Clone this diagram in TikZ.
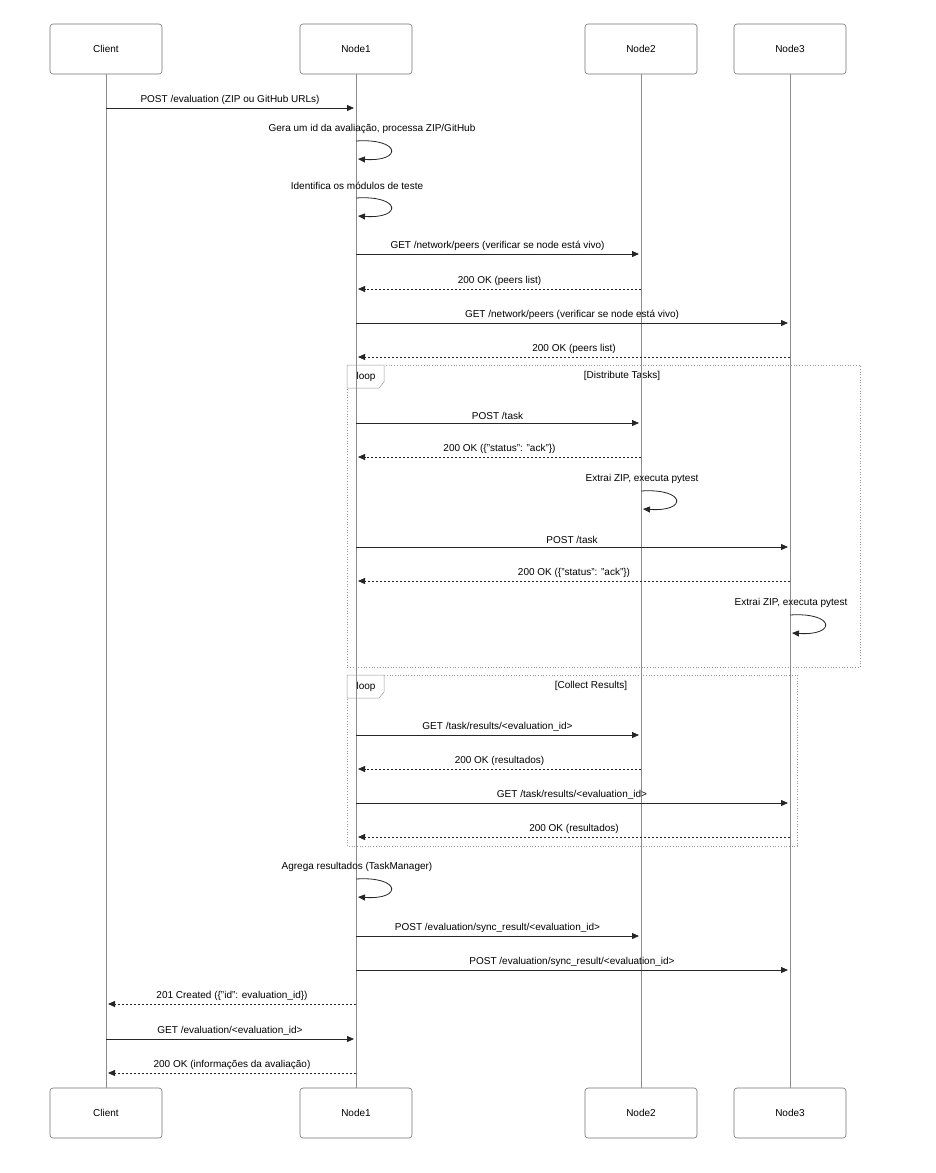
\documentclass[tikz,border=0pt]{standalone}
\usepackage{fontspec}
\setmainfont{Liberation Sans}
\usetikzlibrary{arrows.meta}
\begin{document}
\begin{tikzpicture}[x=1pt,y=-1pt,font=\fontsize{10}{12}\selectfont,
  actor/.style={draw=black!55,rounded corners=3pt,minimum width=112pt,minimum height=50pt,fill=white,line width=0.6pt},
  life/.style={draw=black!45,line width=0.8pt},
  req/.style={draw=black!85,line width=0.8pt,-{Triangle[length=7pt,width=6pt]}},
  rep/.style={req,dash pattern=on 2pt off 2pt},
  lbl/.style={above=2pt,midway,inner sep=1pt},
  frame/.style={draw=black!40,dotted,line width=0.7pt}]
\useasboundingbox (0,0) rectangle (936,1173);
% frames
\draw[frame] (347,365) rectangle (860,667);
\draw[frame] (347,675) rectangle (797,846);
\foreach \y/\t in {365/a,675/b}{
  \draw[draw=black!40,fill=white,line width=0.5pt] (347,\y) -- (384,\y) -- (384,\y+17) -- (379,\y+23) -- (347,\y+23) -- cycle;
  \node at (366,\y+12) {loop};}
\node (dt) at (622,376) {[Distribute Tasks]};
\node (cr) at (591,686) {[Collect Results]};
% actors
\node[actor] (c) at (106,49) {Client};
\node[actor] (n1) at (356,49) {Node1};
\node[actor] (n2) at (641,49) {Node2};
\node[actor] (n3) at (790,49) {Node3};
\node[actor] (cb) at (106,1113) {Client};
\node[actor] (n1b) at (356,1113) {Node1};
\node[actor] (n2b) at (641,1113) {Node2};
\node[actor] (n3b) at (790,1113) {Node3};
\draw[life] (c) -- (cb); \draw[life] (n1) -- (n1b);
\draw[life] (n2) -- (n2b); \draw[life] (n3) -- (n3b);
% messages
\draw[req] (c|-0,108) -- node[lbl]{POST /evaluation (ZIP ou GitHub URLs)} ([xshift=-2pt]n1|-0,108);
\newcommand{\selfm}[4]{% node, y, text, textx
  \node at (#4,#2-12) {#3};
  \draw[req] (#1|-0,#2) .. controls +(45,-3) and +(45,3) .. ([xshift=2pt]#1|-0,#2+18);}
\selfm{n1}{141}{Gera um id da avaliação, processa ZIP/GitHub}{372}
\selfm{n1}{198}{Identifica os módulos de teste}{357}
\draw[req] (n1|-0,254) -- node[lbl]{GET /network/peers (verificar se node está vivo)} ([xshift=-2pt]n2|-0,254);
\draw[rep] (n2|-0,289) -- node[lbl]{200 OK (peers list)} ([xshift=2pt]n1|-0,289);
\draw[req] (n1|-0,323) -- node[lbl]{GET /network/peers (verificar se node está vivo)} ([xshift=-2pt]n3|-0,323);
\draw[rep] (n3|-0,357) -- node[lbl]{200 OK (peers list)} ([xshift=2pt]n1|-0,357);
\draw[req] (n1|-0,423) -- node[lbl]{POST /task} ([xshift=-2pt]n2|-0,423);
\draw[rep] (n2|-0,457) -- node[lbl]{200 OK (\{"status": "ack"\})} ([xshift=2pt]n1|-0,457);
\selfm{n2}{491}{Extrai ZIP, executa pytest}{642}
\draw[req] (n1|-0,547) -- node[lbl]{POST /task} ([xshift=-2pt]n3|-0,547);
\draw[rep] (n3|-0,581) -- node[lbl]{200 OK (\{"status": "ack"\})} ([xshift=2pt]n1|-0,581);
\selfm{n3}{615}{Extrai ZIP, executa pytest}{791}
\draw[req] (n1|-0,735) -- node[lbl]{GET /task/results/<evaluation\_id>} ([xshift=-2pt]n2|-0,735);
\draw[rep] (n2|-0,769) -- node[lbl]{200 OK (resultados)} ([xshift=2pt]n1|-0,769);
\draw[req] (n1|-0,803) -- node[lbl]{GET /task/results/<evaluation\_id>} ([xshift=-2pt]n3|-0,803);
\draw[rep] (n3|-0,837) -- node[lbl]{200 OK (resultados)} ([xshift=2pt]n1|-0,837);
\selfm{n1}{879}{Agrega resultados (TaskManager)}{357}
\draw[req] (n1|-0,936) -- node[lbl]{POST /evaluation/sync\_result/<evaluation\_id>} ([xshift=-2pt]n2|-0,936);
\draw[req] (n1|-0,970) -- node[lbl]{POST /evaluation/sync\_result/<evaluation\_id>} ([xshift=-2pt]n3|-0,970);
\draw[rep] (n1|-0,1004) -- node[lbl]{201 Created (\{"id": evaluation\_id\})} ([xshift=2pt]c|-0,1004);
\draw[req] (c|-0,1039) -- node[lbl]{GET /evaluation/<evaluation\_id>} ([xshift=-2pt]n1|-0,1039);
\draw[rep] (n1|-0,1073) -- node[lbl]{200 OK (informações da avaliação)} ([xshift=2pt]c|-0,1073);
\end{tikzpicture}
\end{document}
